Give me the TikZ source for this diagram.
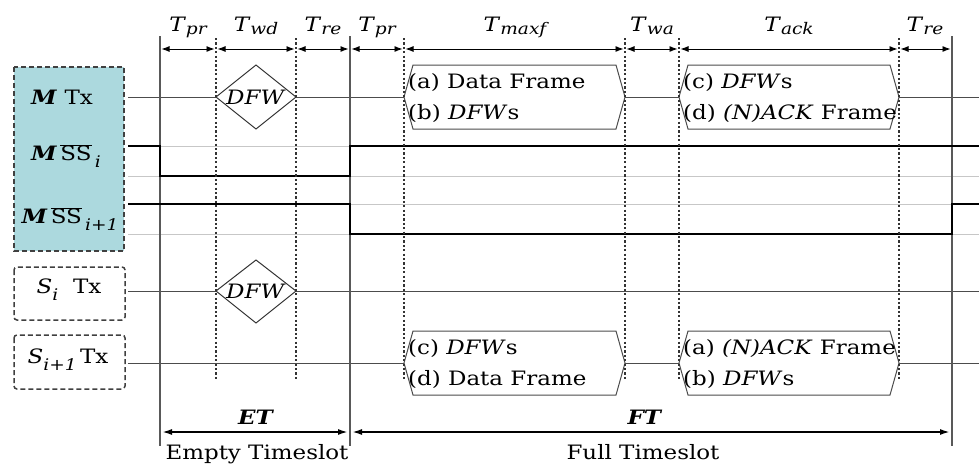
\documentclass[tikz,border=0pt]{standalone}
\usepackage{fontspec}
\setmainfont{DejaVu Serif}[FakeStretch=1.16]
\usetikzlibrary{arrows.meta}
\definecolor{mfill}{RGB}{172,217,222}
% lowered italic subscripts in text
\newcommand\tsub[1]{\raisebox{-3.5pt}{\fontsize{16}{16}\selectfont\itshape #1}}
\newcommand\lsub[1]{\raisebox{-7pt}{\fontsize{16}{16}\selectfont\itshape #1}}
% hexagonal frame symbol on a transmit lane: left x, right x, centre y
\newcommand\txframe[3]{\draw[frm] (#1,#3) -- (#1+9,#3-32) -- (#2-9,#3-32) -- (#2,#3) -- (#2-9,#3+32) -- (#1+9,#3+32) -- cycle;}
\begin{document}
\begin{tikzpicture}[x=1pt,y=-1pt,
  font=\fontsize{19.8}{22}\selectfont,
  guide/.style={line width=0.8pt, draw=black!22},
  lane/.style={line width=0.9pt, draw=black!70},
  signal/.style={line width=2.2pt, draw=black},
  slotline/.style={line width=1.2pt, draw=black!65},
  tick/.style={dash pattern=on 2.2pt off 2.2pt, line width=1.3pt, draw=black!80},
  dim/.style={{Latex[length=8pt,width=6pt]}-{Latex[length=8pt,width=6pt]}, line width=0.9pt, shorten <=1.5pt, shorten >=1.5pt},
  bigdim/.style={{Latex[length=10pt,width=6pt]}-{Latex[length=10pt,width=6pt]}, line width=1.8pt, shorten <=2pt, shorten >=2pt},
  lanebox/.style={dash pattern=on 5pt off 3pt, line width=1.5pt, draw=black!75},
  frm/.style={draw=black!70, line width=1pt, fill=white},
  dfw/.style={draw=black!80, line width=1pt, fill=white},
  framelabel/.style={anchor=west, align=left, font=\fontsize{19.8}{31}\selectfont, inner sep=0pt}
]
\useasboundingbox (0,0) rectangle (979,466);

% lane boxes
\draw[lanebox, fill=mfill] (14,67) rectangle (124,251);
\draw[lanebox, rounded corners=3pt] (14,267) rectangle (125,320);
\draw[lanebox, rounded corners=3pt] (14,335) rectangle (125,389);

\node (mtx) at (62,97) {\textbf{\textit{M}} Tx};
\node (mssi) at (66,156) {\textbf{\textit{M}}\,$\overline{\hbox{SS}}$\,\lsub{i}};
\node (mssj) at (70,219) {\textbf{\textit{M}}\,$\overline{\hbox{SS}}$\,\lsub{i+1}};
\node (sitx) at (69,290) {\textit{S}\lsub{i}\ \ Tx};
\node (sjtx) at (68,360) {\textit{S}\lsub{i+1}\,Tx};

% reference levels of the select lines
\foreach \yy in {146,176,204,234} \draw[guide] (128,\yy) -- (979,\yy);

% transmit lanes
\foreach \yy in {97,291,363} \draw[lane] (128,\yy) -- (979,\yy);

% timeslot boundaries
\foreach \xx in {160,350,952} \draw[slotline] (\xx,36) -- (\xx,446);

% slave select signals
\draw[signal] (128,146) -- (160,146) -- (160,176) -- (350,176) -- (350,146) -- (979,146);
\draw[signal] (128,204) -- (350,204) -- (350,234) -- (952,234) -- (952,204) -- (979,204);

% frames on the transmit lanes
\txframe{404}{625}{97}
\txframe{679}{899}{97}
\txframe{404}{625}{363}
\txframe{679}{899}{363}
\node[framelabel] (f1) at (408,98) {(a) Data Frame\\(b) \textit{DFW}s};
\node[framelabel] (f2) at (683,98) {(c) \textit{DFW}s\\(d) \textit{(N)ACK} Frame};
\node[framelabel] (f3) at (408,364) {(c) \textit{DFW}s\\(d) Data Frame};
\node[framelabel] (f4) at (683,364) {(a) \textit{(N)ACK} Frame\\(b) \textit{DFW}s};

% data frame windows in the empty timeslot
\draw[dfw] (216,97) -- (256,65) -- (296,97) -- (256,129) -- cycle;
\node (d1) at (256,97) {\textit{DFW}};
\draw[dfw] (216,291) -- (256,260) -- (296,291) -- (256,323) -- cycle;
\node (d2) at (256,291) {\textit{DFW}};

% phase boundaries
\foreach \xx in {216,296,404,625,679,899} \draw[tick] (\xx,38) -- (\xx,380);

% phase durations
\foreach \xx [count=\i from 0] in {160,216,296,350,404,625,679,899,952}
  \coordinate (a\i) at (\xx,49);
\foreach \i/\j in {0/1,1/2,2/3,3/4,4/5,5/6,6/7,7/8} \draw[dim] (a\i) -- (a\j);

\node[anchor=base] (l1) at (188,31) {\textit{T}\tsub{pr}};
\node[anchor=base] (l2) at (256,31) {\textit{T}\tsub{wd}};
\node[anchor=base] (l3) at (323,31) {\textit{T}\tsub{re}};
\node[anchor=base] (l4) at (377,31) {\textit{T}\tsub{pr}};
\node[anchor=base] (l5) at (515,31) {\textit{T}\tsub{maxf}};
\node[anchor=base] (l6) at (652,31) {\textit{T}\tsub{wa}};
\node[anchor=base] (l7) at (789,31) {\textit{T}\tsub{ack}};
\node[anchor=base] (l8) at (925,31) {\textit{T}\tsub{re}};

% timeslot lengths
\coordinate (e0) at (160,432);
\coordinate (e1) at (350,432);
\coordinate (e2) at (952,432);
\draw[bigdim] (e0) -- (e1);
\draw[bigdim] (e1) -- (e2);
\node[anchor=base] (et) at (256,424) {\textbf{\textit{ET}}};
\node[anchor=base] (ft) at (645,424) {\textbf{\textit{FT}}};
\node[anchor=base] (etl) at (257,459) {Empty Timeslot};
\node[anchor=base] (ftl) at (643,459) {Full Timeslot};
\end{tikzpicture}
\end{document}
